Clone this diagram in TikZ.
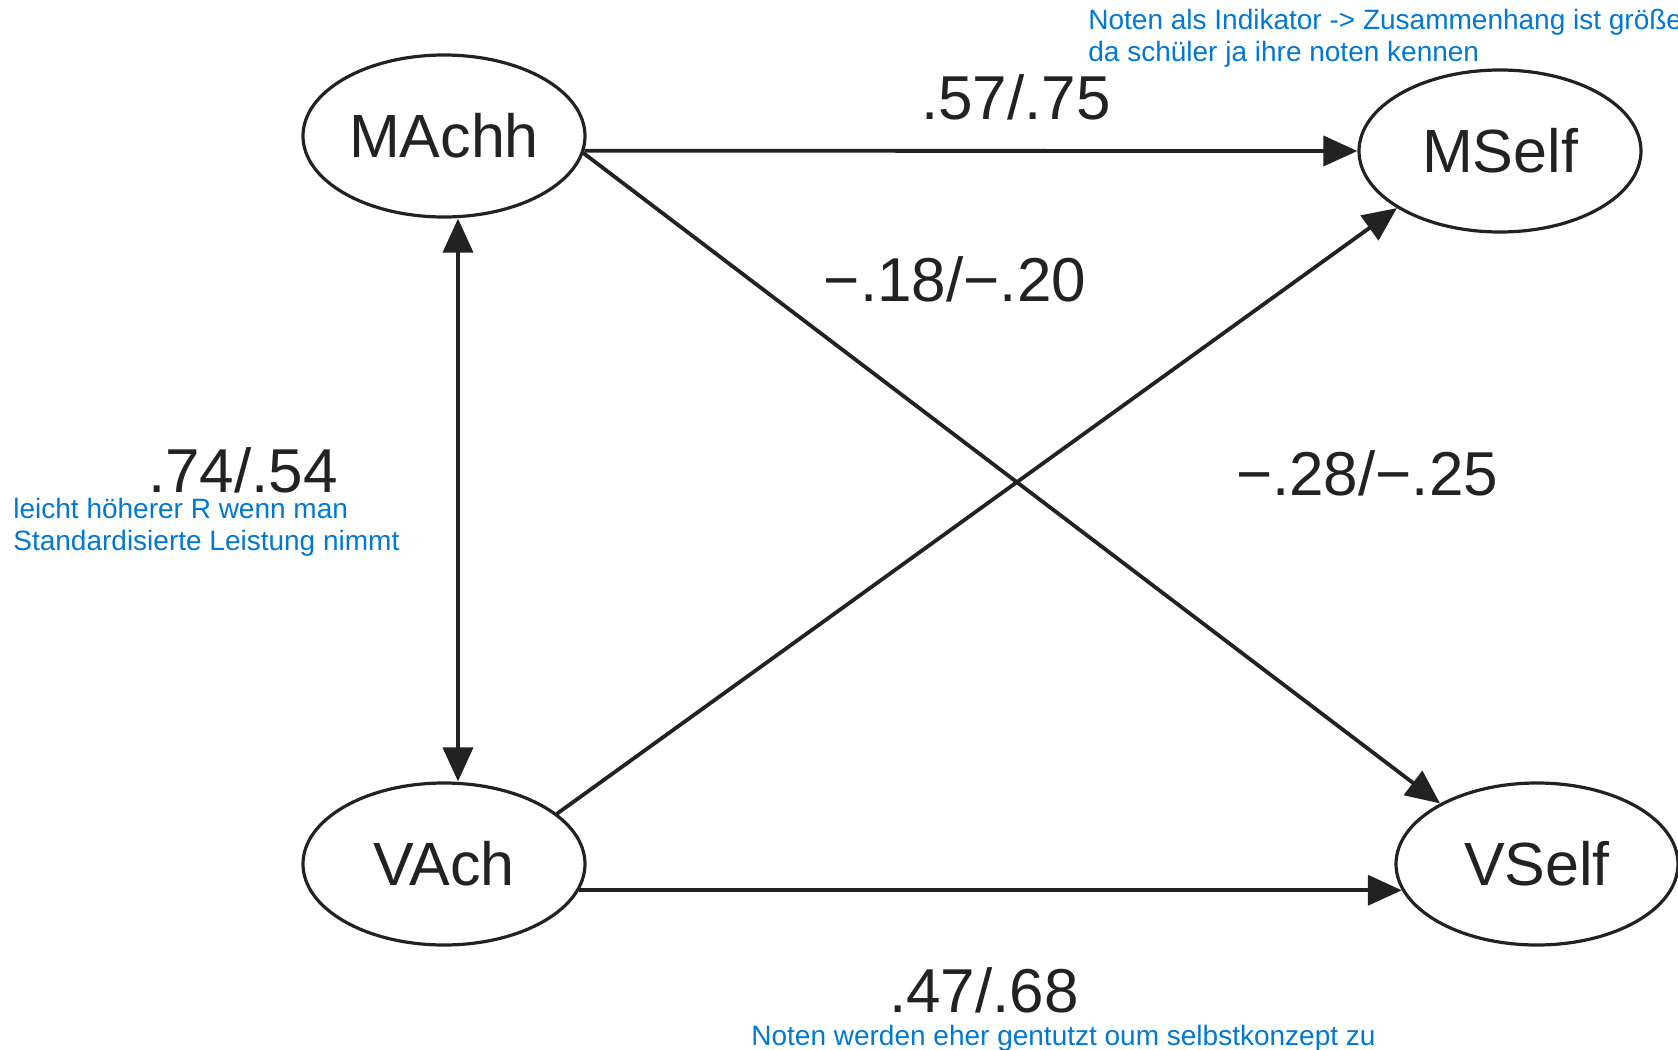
\documentclass[tikz,border=0pt]{standalone}
\usepackage{fontspec}
\setmainfont{Liberation Sans}
\usetikzlibrary{arrows.meta,positioning,shapes.geometric,calc}
\definecolor{notiz}{HTML}{0078D4}
\definecolor{pfad}{HTML}{222222}
\tikzset{
    >={Triangle[length=17pt,width=15pt]},
    semvar/.style={ellipse, draw=pfad, line width=1.6pt, minimum width=141pt, minimum height=81pt, inner sep=0pt, font=\fontsize{30.5}{36}\selectfont, text=pfad},
    sempfad/.style={->, line width=1.9pt, draw=pfad},
    semkoeff/.style={font=\fontsize{31}{36}\selectfont, text=pfad, inner sep=0pt},
    semnotiz/.style={font=\fontsize{14}{16}\selectfont, text=notiz, align=left, inner sep=0pt, anchor=base west}
}
\begin{document}
\begin{tikzpicture}[x=0.5pt, y=-0.5pt]
        \useasboundingbox (0,0) rectangle (1678,1050);
        \node[semvar] (machh) at (444,136) {MAchh};
        \node[semvar] (mself) at (1500,151) {MSelf};
        \node[semvar] (vach) at (444,864) {VAch};
        \node[semvar] (vself) at (1537,864) {VSelf};

        \draw[sempfad] (machh.-6) -- (mself.west);
        \draw[sempfad] (vach.-11) -- (vself.-169);
        \draw[sempfad] (machh.-7) -- (vself.148);
        \draw[sempfad] (vach.24) -- (mself.-151);
        \draw[sempfad, <->] ([xshift=7pt]machh.south) -- ([xshift=7pt]vach.north);

        \node[semkoeff] (k5775) at (1016,97) {.57/.75};
        \node[semkoeff] (k1820) at (955,279) {−.18/−.20};
        \node[semkoeff] (k2825) at (1367,473) {−.28/−.25};
        \node[semkoeff] (k7454) at (243,470) {.74/.54};
        \node[semkoeff] (k4768) at (984,990) {.47/.68};

        % base = Grundlinie der letzten Zeile
        \node[semnotiz] (nindikator) at (1088,61) {Noten als Indikator -> Zusammenhang ist größe\\da schüler ja ihre noten kennen};
        \node[semnotiz] (nleistung) at (13,550) {leicht höherer R wenn man\\Standardisierte Leistung nimmt};
        \node[semnotiz] (nselbst) at (751,1045) {Noten werden eher gentutzt oum selbstkonzept zu};
    \end{tikzpicture}
\end{document}
